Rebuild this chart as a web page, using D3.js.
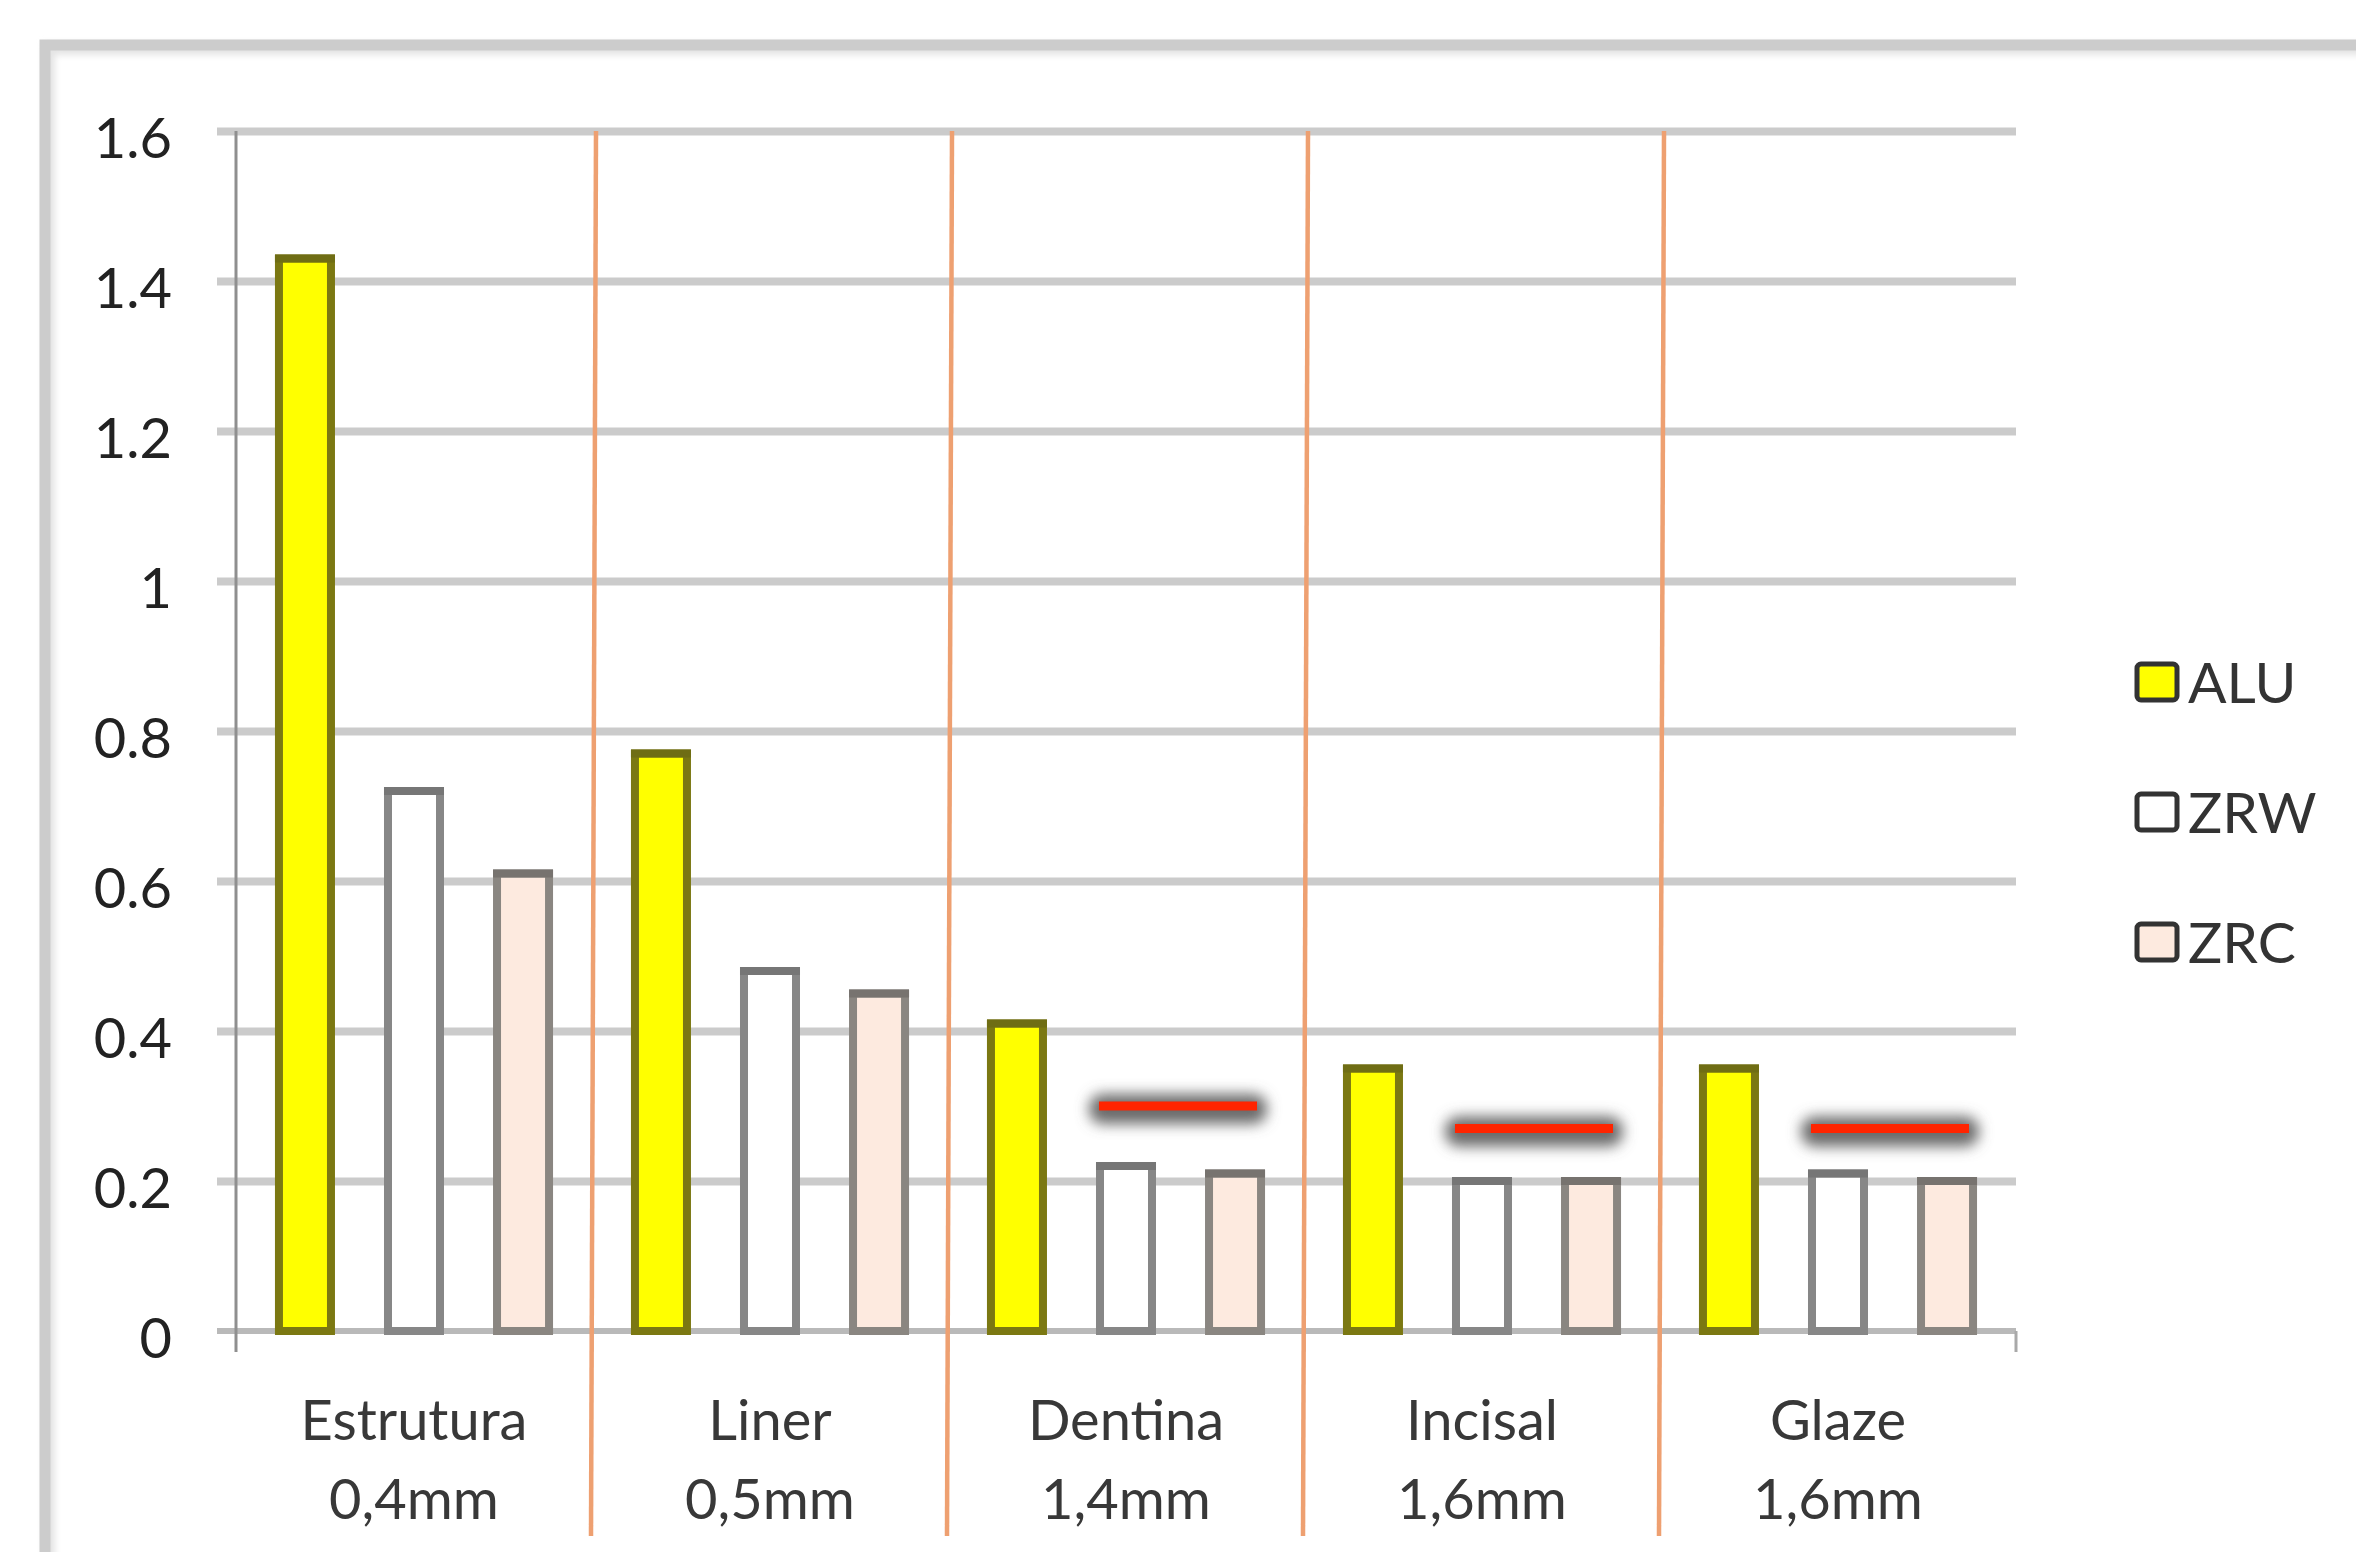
<!DOCTYPE html>
<html>
<head>
<meta charset="utf-8">
<script src="https://cdn.jsdelivr.net/npm/d3@7"></script>
<style>
  body { margin: 0; background: #ffffff; }
  svg { display: block; }
</style>
</head>
<body>
<svg id="chart" width="2356" height="1552"></svg>
<script>
// Layer categories (two-line labels) and the three materials compared
const categories = ["Estrutura", "Liner", "Dentina", "Incisal", "Glaze"];
const thicknessLabels = ["0,4mm", "0,5mm", "1,4mm", "1,6mm", "1,6mm"];
const series = ["ALU", "ZRW", "ZRC"];

// Measured values per layer
const aluValues = [1.43, 0.77, 0.41, 0.35, 0.35];
const zrwValues = [0.72, 0.48, 0.22, 0.20, 0.21];
const zrcValues = [0.61, 0.45, 0.21, 0.20, 0.20];

// Reference levels marked with red bars over the zirconia pairs
const referenceValues = [null, null, 0.30, 0.27, 0.27];

// Value axis
const yTicks = [0, 0.2, 0.4, 0.6, 0.8, 1.0, 1.2, 1.4, 1.6];
const yTickLabels = ["0", "0.2", "0.4", "0.6", "0.8", "1", "1.2", "1.4", "1.6"];

const valuesBySeries = { ALU: aluValues, ZRW: zrwValues, ZRC: zrcValues };
const fills = { ALU: "#ffff00", ZRW: "#ffffff", ZRC: "#fdeadf" };
const strokes = { ALU: "#7b7812", ZRW: "#878787", ZRC: "#8a8681" };
const capStrokes = { ALU: "#6f6d14", ZRW: "#767676", ZRC: "#77736f" };

const W = 2356, H = 1552;
const plot = { left: 236, right: 2016, top: 131, bottom: 1331 };
const gridStart = 217;
const tickBottom = 1352;
const FONT = "Lato, 'Open Sans', 'DejaVu Sans', sans-serif";

const svg = d3.select("#chart");
svg.append("rect").attr("width", W).attr("height", H).attr("fill", "#ffffff");

const defs = svg.append("defs");
defs.append("filter").attr("id", "softShadow")
  .attr("x", "-30%").attr("y", "-300%").attr("width", "160%").attr("height", "700%")
  .append("feGaussianBlur").attr("stdDeviation", 7);
defs.append("filter").attr("id", "frameShadow")
  .attr("x", "-5%").attr("y", "-5%").attr("width", "110%").attr("height", "110%")
  .append("feGaussianBlur").attr("stdDeviation", 3);

// Outer frame (top and left edges)
svg.append("path")
  .attr("d", `M49,${H + 20}V49H${W + 20}`)
  .attr("fill", "none").attr("stroke", "#e4e4e4").attr("stroke-width", 12)
  .attr("filter", "url(#frameShadow)");
svg.append("path")
  .attr("d", `M45,${H + 20}V45H${W + 20}`)
  .attr("fill", "none").attr("stroke", "#cccccc").attr("stroke-width", 11);

// Scales
const x0 = d3.scaleBand().domain(categories).range([plot.left, plot.right]).padding(0);
const x1 = d3.scaleBand().domain(series).range([0, x0.bandwidth()])
  .paddingInner(0.523).paddingOuter(0.394);
const y = d3.scaleLinear().domain([0, 1.6]).range([plot.bottom, plot.top]);

// Horizontal gridlines
const grid = svg.append("g")
  .attr("transform", `translate(${gridStart},0)`)
  .call(d3.axisRight(y).tickValues(yTicks.filter(v => v > 0))
    .tickSize(plot.right - gridStart).tickFormat(""));
grid.select(".domain").remove();
grid.selectAll(".tick line").attr("stroke", "#cbcbcb").attr("stroke-width", 8);

// Category axis baseline and boundary ticks
svg.append("line")
  .attr("x1", gridStart).attr("x2", plot.right)
  .attr("y1", y(0)).attr("y2", y(0))
  .attr("stroke", "#b9b9b9").attr("stroke-width", 6);
const boundaries = categories.slice(1).map(c => x0(c)).concat([plot.right]);
svg.selectAll("line.boundaryTick").data(boundaries).join("line")
  .attr("class", "boundaryTick")
  .attr("x1", d => d).attr("x2", d => d)
  .attr("y1", y(0)).attr("y2", tickBottom)
  .attr("stroke", "#a9a9a9").attr("stroke-width", 3);

// Value axis line
svg.append("line")
  .attr("x1", plot.left).attr("x2", plot.left)
  .attr("y1", plot.top).attr("y2", tickBottom)
  .attr("stroke", "#8f8f8f").attr("stroke-width", 3);

// Value axis labels
const yAxis = svg.append("g")
  .attr("transform", `translate(${plot.left},0)`)
  .call(d3.axisLeft(y).tickValues(yTicks).tickSize(0).tickPadding(64)
    .tickFormat((d, i) => yTickLabels[i]));
yAxis.select(".domain").remove();
yAxis.selectAll("text")
  .attr("dy", "0.48em")
  .attr("font-family", FONT).attr("font-size", 56).attr("fill", "#222222");

// Bars
const barData = [];
categories.forEach((c, ci) => {
  series.forEach(s => barData.push({ cat: c, s, v: valuesBySeries[s][ci] }));
});
const bars = svg.append("g").selectAll("g").data(barData).join("g");
bars.append("rect")
  .attr("x", d => x0(d.cat) + x1(d.s))
  .attr("y", d => y(d.v))
  .attr("width", x1.bandwidth())
  .attr("height", d => y(0) - y(d.v))
  .attr("fill", d => fills[d.s])
  .attr("stroke", d => strokes[d.s])
  .attr("stroke-width", 8);
// slightly darker cap on each bar top
bars.append("line")
  .attr("x1", d => x0(d.cat) + x1(d.s) - 4)
  .attr("x2", d => x0(d.cat) + x1(d.s) + x1.bandwidth() + 4)
  .attr("y1", d => y(d.v)).attr("y2", d => y(d.v))
  .attr("stroke", d => capStrokes[d.s]).attr("stroke-width", 8)
  .attr("stroke-linecap", "butt");

// Orange separators between layers
svg.selectAll("line.sep").data(categories.slice(1)).join("line")
  .attr("class", "sep")
  .attr("x1", d => x0(d) + 4).attr("y1", plot.top)
  .attr("x2", d => x0(d) - 1).attr("y2", 1536)
  .attr("stroke", "#eea071").attr("stroke-width", 4.5);

// Red reference bars with soft grey halo
const refData = categories.map((c, i) => ({ cat: c, v: referenceValues[i] }))
  .filter(d => d.v !== null);
const refLen = 158;
const refG = svg.append("g").selectAll("g").data(refData).join("g");
refG.append("rect")
  .attr("x", d => x0(d.cat) + x1("ZRW") - 1 - 10)
  .attr("y", d => y(d.v) - 12)
  .attr("width", refLen + 20).attr("height", 30).attr("rx", 14)
  .attr("fill", "#6a6a6a")
  .attr("filter", "url(#softShadow)");
refG.append("rect")
  .attr("x", d => x0(d.cat) + x1("ZRW") - 1)
  .attr("y", d => y(d.v) - 4.5)
  .attr("width", refLen).attr("height", 9)
  .attr("fill", "#ff2400");

// Category labels (two lines)
const catLabels = svg.append("g").selectAll("text").data(categories).join("text")
  .attr("x", d => x0(d) + x0.bandwidth() / 2)
  .attr("text-anchor", "middle")
  .attr("font-family", FONT).attr("font-size", 56).attr("fill", "#383838");
catLabels.append("tspan").attr("x", d => x0(d) + x0.bandwidth() / 2).attr("y", 1440).text(d => d);
catLabels.append("tspan").attr("x", d => x0(d) + x0.bandwidth() / 2).attr("y", 1519)
  .text((d, i) => thicknessLabels[i]);

// Legend
const legendY = d3.scalePoint().domain(series).range([682, 942]);
const legend = svg.append("g").selectAll("g").data(series).join("g")
  .attr("transform", d => `translate(2137,${legendY(d)})`);
legend.append("rect")
  .attr("x", 0).attr("y", -18).attr("width", 40).attr("height", 36).attr("rx", 4)
  .attr("fill", d => fills[d]).attr("stroke", "#333333").attr("stroke-width", 5);
legend.append("text")
  .attr("x", 51).attr("y", 0).attr("dy", "0.36em")
  .attr("font-family", FONT).attr("font-size", 57).attr("fill", "#333333")
  .text(d => d);
</script>
</body>
</html>
